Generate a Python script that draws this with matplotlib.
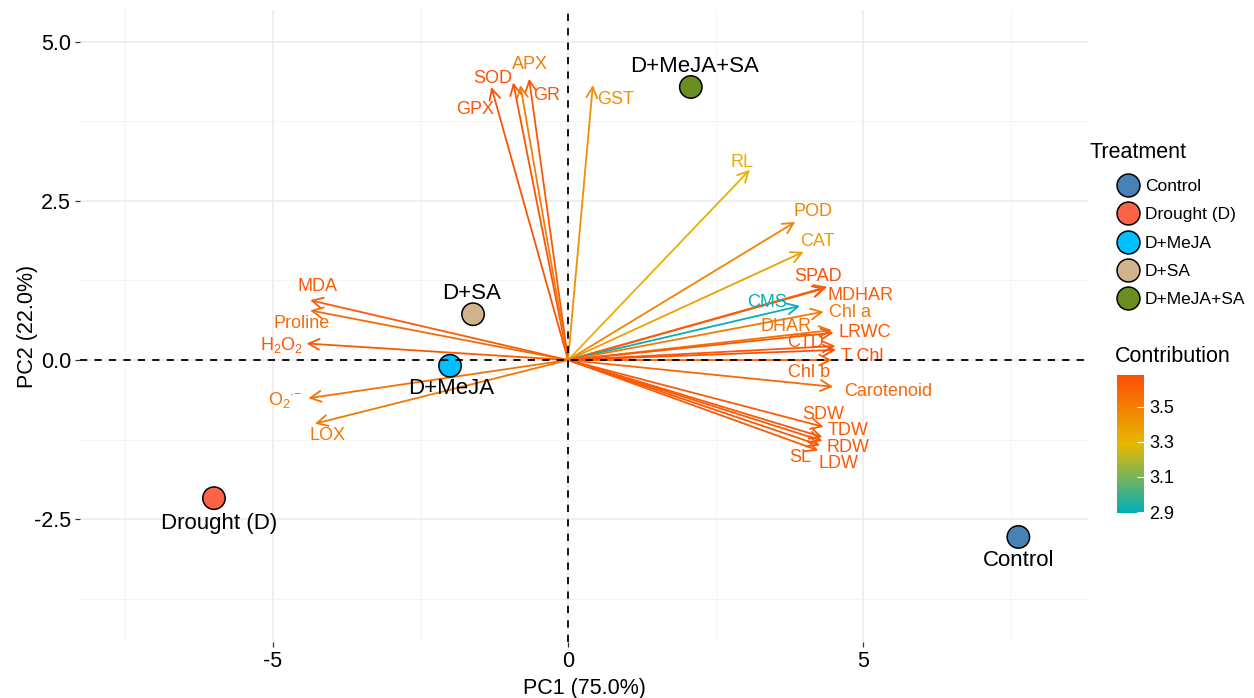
import numpy as np
import matplotlib
matplotlib.use('Agg')
import matplotlib.pyplot as plt
from matplotlib.colors import LinearSegmentedColormap, Normalize
from matplotlib.lines import Line2D

plt.rcParams['font.family'] = ['Liberation Sans', 'DejaVu Sans']
plt.rcParams['mathtext.fontset'] = 'custom'
plt.rcParams['mathtext.rm'] = 'Liberation Sans'
plt.rcParams['mathtext.it'] = 'Liberation Sans:italic'

# variable loadings (arrow tips) and contributions
variables = ['GPX', 'SOD', 'APX', 'GR', 'GST', 'RL', 'POD', 'CAT', 'SPAD', 'MDHAR',
             'CMS', 'Chl a', 'DHAR', 'LRWC', 'CTD', 'T Chl', 'Chl b', 'Carotenoid',
             'SDW', 'TDW', 'RDW', 'LDW', 'SL', 'MDA', 'Proline', 'H2O2', 'O2', 'LOX']
pc1 = [-1.30, -0.93, -0.81, -0.66, 0.42, 3.08, 3.85, 3.99, 4.36, 4.39,
       3.93, 4.33, 4.47, 4.50, 4.53, 4.54, 4.47, 4.49,
       4.33, 4.31, 4.31, 4.27, 4.24, -4.37, -4.37, -4.43, -4.40, -4.29]
pc2 = [4.29, 4.36, 4.32, 4.42, 4.32, 2.99, 2.17, 1.70, 1.13, 1.15,
       0.85, 0.76, 0.47, 0.43, 0.22, 0.16, 0.00, -0.42,
       -1.05, -1.21, -1.27, -1.34, -1.42, 0.94, 0.78, 0.26, -0.60, -1.00]
contrib = [3.66, 3.66, 3.50, 3.64, 3.44, 3.32, 3.48, 3.38, 3.67, 3.62,
           2.90, 3.52, 3.55, 3.64, 3.64, 3.67, 3.62, 3.58,
           3.62, 3.64, 3.64, 3.64, 3.63, 3.63, 3.57, 3.64, 3.55, 3.52]
display_names = {'H2O2': r'H$_2$O$_2$', 'O2': r'O$_2$$^{\bullet\!-}$'}

# treatment scores
treatments = ['Control', 'Drought (D)', 'D+MeJA', 'D+SA', 'D+MeJA+SA']
score_pc1 = [7.63, -6.00, -2.00, -1.61, 2.08]
score_pc2 = [-2.78, -2.17, -0.09, 0.72, 4.29]
treat_colors = ['#4682B4', '#FF6347', '#00BFFF', '#D2B48C', '#6B8E23']

# label placement (data coords) for the variable names
label_pos = {
    'GPX': (-1.58, 3.93), 'SOD': (-1.27, 4.43), 'APX': (-0.64, 4.64), 'GR': (-0.37, 4.15),
    'GST': (0.80, 4.09), 'RL': (2.95, 3.11), 'POD': (4.15, 2.33), 'CAT': (4.22, 1.86),
    'SPAD': (4.24, 1.31), 'MDHAR': (4.95, 1.02), 'CMS': (3.37, 0.91), 'Chl a': (4.78, 0.75),
    'DHAR': (3.69, 0.52), 'LRWC': (5.03, 0.44), 'CTD': (4.02, 0.28), 'T Chl': (4.98, 0.06),
    'Chl b': (4.08, -0.20), 'Carotenoid': (5.42, -0.49), 'SDW': (4.32, -0.86),
    'TDW': (4.75, -1.10), 'RDW': (4.75, -1.37), 'SL': (3.93, -1.53), 'LDW': (4.58, -1.62),
    'MDA': (-4.24, 1.15), 'Proline': (-4.51, 0.58), 'H2O2': (-4.85, 0.24),
    'O2': (-4.80, -0.63), 'LOX': (-4.08, -1.19)}
treat_offset = {'Control': (0, -17), 'Drought (D)': (4, -18), 'D+MeJA': (1, -16),
                'D+SA': (-1, 15), 'D+MeJA+SA': (3, 15)}

cmap = LinearSegmentedColormap.from_list('contrib', ['#00AFBB', '#E7B800', '#FC4E07'])
norm = Normalize(vmin=2.895, vmax=3.68)

fig = plt.figure(figsize=(12.54, 6.98), dpi=100)
ax = fig.add_axes([80 / 1254, 1 - 642 / 698, 1008 / 1254, 632 / 698])
ax.set_xlim(-8.27, 8.81)
ax.set_ylim(-4.43, 5.50)

ax.set_xticks([-5, 0, 5])
ax.set_xticklabels(['-5', '0', '5'])
ax.set_yticks([-2.5, 0, 2.5, 5.0])
ax.set_yticklabels(['-2.5', '0.0', '2.5', '5.0'])
ax.set_xticks([-7.5, -2.5, 2.5, 7.5], minor=True)
ax.set_yticks([-3.75, -1.25, 1.25, 3.75], minor=True)
ax.grid(which='major', color='#EBEBEB', lw=1.1, zorder=0)
ax.grid(which='minor', color='#F2F2F2', lw=0.6, zorder=0)
for s in ax.spines.values():
    s.set_visible(False)
ax.tick_params(which='major', length=3.5, width=0.9, color='#333333', labelsize=15.5,
               labelcolor='black', pad=3)
ax.tick_params(which='minor', length=0)
ax.set_axisbelow(True)

ax.set_xlabel('PC1 (75.0%)', fontsize=15.5, labelpad=4)
ax.set_ylabel('PC2 (22.0%)', fontsize=15.5)
ax.yaxis.set_label_coords(-0.042, 0.5)

# arrows
for name, x, y, c in zip(variables, pc1, pc2, contrib):
    col = cmap(norm(c))
    ax.annotate('', xy=(x, y), xytext=(0, 0),
                arrowprops=dict(arrowstyle='->,head_length=0.55,head_width=0.28',
                                color=col, lw=1.3, shrinkA=0, shrinkB=0,
                                mutation_scale=14), zorder=3)
    lx, ly = label_pos[name]
    ax.text(lx, ly, display_names.get(name, name), color=col, fontsize=13,
            ha='center', va='center', zorder=4)

# treatment points
ax.scatter(score_pc1, score_pc2, s=260, c=treat_colors, edgecolors='black',
           linewidths=1.1, zorder=5)
for t, x, y in zip(treatments, score_pc1, score_pc2):
    dx, dy = treat_offset[t]
    ax.annotate(t, (x, y), xytext=(dx, dy), textcoords='offset points',
                ha='center', va='center', fontsize=16, zorder=6)

# reference lines
ax.axhline(0, color='black', lw=1.3, ls=(0, (4, 4)), zorder=5.5)
ax.axvline(0, color='black', lw=1.3, ls=(0, (4, 4)), zorder=5.5)

# treatment legend
fig.text(1090 / 1254, 1 - 153 / 698, 'Treatment', fontsize=15.5, ha='left', va='center')
handles = [Line2D([], [], ls='none', marker='o', markersize=16.5, markerfacecolor=c,
                  markeredgecolor='black', markeredgewidth=1.1) for c in treat_colors]
fig.legend(handles, treatments, loc='upper left',
           bbox_to_anchor=(1111 / 1254, 1 - 172 / 698), frameon=False,
           fontsize=12.5, handlelength=1.2, handletextpad=0.35, labelspacing=0.76,
           borderaxespad=0)

# contribution colorbar
fig.text(1115 / 1254, 1 - 357 / 698, 'Contribution', fontsize=15.5, ha='left', va='center')
cax = fig.add_axes([1117 / 1254, 1 - 513 / 698, 27 / 1254, 138 / 698])
sm = plt.cm.ScalarMappable(cmap=cmap, norm=norm)
cb = fig.colorbar(sm, cax=cax, ticks=[2.9, 3.1, 3.3, 3.5])
cb.outline.set_visible(False)
cb.ax.tick_params(length=5, color='white', width=0.8, direction='in', labelsize=13, pad=4)
cb.ax.set_yticklabels(['2.9', '3.1', '3.3', '3.5'])

fig.savefig('out.png', dpi=100)
